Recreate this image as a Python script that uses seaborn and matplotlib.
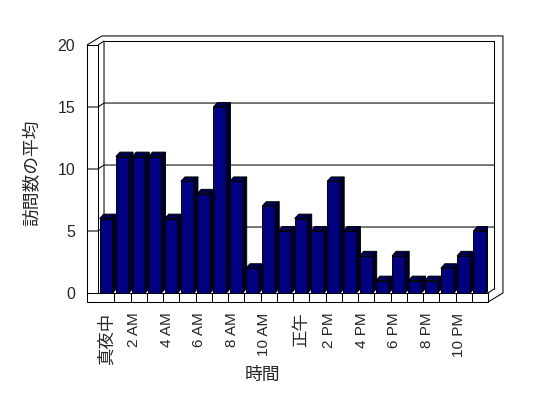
import matplotlib
matplotlib.use("Agg")
import matplotlib.pyplot as plt
import matplotlib.transforms as mtransforms
import seaborn as sns
import pandas as pd
from matplotlib.patches import Polygon

# data
hours = ['真夜中', '1 AM', '2 AM', '3 AM', '4 AM', '5 AM', '6 AM', '7 AM',
         '8 AM', '9 AM', '10 AM', '11 AM', '正午', '1 PM', '2 PM', '3 PM',
         '4 PM', '5 PM', '6 PM', '7 PM', '8 PM', '9 PM', '10 PM', '11 PM']
visits = [6, 11, 11, 11, 6, 9, 8, 15, 9, 2, 7, 5,
          6, 5, 9, 5, 3, 1, 3, 1, 1, 2, 3, 5]
y_ticks = [0, 5, 10, 15, 20]

sns.set_style('white')
plt.rcParams['font.family'] = ['Liberation Sans', 'Noto Sans CJK JP']

W, H = 548, 398
fig = plt.figure(figsize=(W / 100, H / 100), dpi=100)
# front plane of the 3d box: x slots -0.5..23.5 -> px 98..488, y 0..20 -> px 293..45
ax = fig.add_axes([98 / W, 1 - 293 / H, 390 / W, 248 / H])

df = pd.DataFrame({'hour': hours, 'visits': visits})
sns.barplot(data=df, x='hour', y='visits', order=hours, color='#000080',
            saturation=1, width=0.8, edgecolor='black', linewidth=0.7,
            zorder=3, ax=ax)

ax.set_xlim(-0.5, 23.5)
ax.set_ylim(0, 20)
for s in ax.spines.values():
    s.set_visible(False)

n = len(hours)
x0, x1 = -0.5, n - 0.5
ymax = y_ticks[-1]
# depth of bars, inner walls and outer box (in data units)
BDX, BDY = 0.25, 0.36
IDX, IDY = 0.37, 0.32
ODX, ODY = 0.92, 0.73
WALL = 0.68
FLOOR = 0.73
lw = 0.75
kw = dict(color='black', lw=lw, clip_on=False, zorder=1, solid_capstyle='butt')

# left wall front face
ax.plot([x0 - WALL, x0 - WALL, x0, x0, x0 - WALL],
        [-FLOOR, ymax, ymax, 0, 0], **kw)
ax.plot([x0 - WALL, x0], [-FLOOR, -FLOOR], **kw)
# outer box outline
ax.plot([x0 - WALL, x0 - WALL + ODX, x1 + ODX, x1 + ODX, x1],
        [ymax, ymax + ODY, ymax + ODY, ODY - FLOOR, -FLOOR], **kw)
# inner back wall
ax.plot([x0, x0 + IDX, x0 + IDX], [ymax, ymax + IDY, IDY], **kw)
ax.plot([x0 + IDX, x1 + IDX, x1 + IDX], [ymax + IDY, ymax + IDY, IDY], **kw)
# gridlines with ticks on the wall face
for v in y_ticks[1:-1]:
    ax.plot([x0 - WALL, x0, x0 + IDX, x1 + IDX], [v, v, v + IDY, v + IDY], **kw)
# floor front
ax.plot([x0, x1, x1, x0 - WALL], [0, 0, -FLOOR, -FLOOR], **kw)
ax.plot([x1, x1 + IDX], [0, IDY], **kw)
for k in range(1, n):
    ax.plot([k - 0.5, k - 0.5], [0, -FLOOR], **kw)

# 3d faces of the bars
for p in ax.patches[:n]:
    bx, bw, bh = p.get_x(), p.get_width(), p.get_height()
    top = Polygon([(bx, bh), (bx + bw, bh), (bx + bw + BDX, bh + BDY), (bx + BDX, bh + BDY)],
                  closed=True, facecolor='#000050', edgecolor='black', lw=0.7, zorder=3)
    side = Polygon([(bx + bw, 0), (bx + bw + BDX, BDY), (bx + bw + BDX, bh + BDY), (bx + bw, bh)],
                   closed=True, facecolor='#00002c', edgecolor='black', lw=0.7, zorder=3)
    ax.add_patch(top)
    ax.add_patch(side)

ax.set_yticks(y_ticks)
ax.set_yticklabels([str(v) for v in y_ticks], fontsize=11.5)
ax.tick_params(axis='y', length=0, pad=16.5)
ax.set_xticks(range(0, n, 2))
ax.set_xticklabels(hours[::2], rotation=90, fontsize=11)
ax.tick_params(axis='x', length=0, pad=14)
shift = mtransforms.ScaledTranslation(-3 / 72, 0, fig.dpi_scale_trans)
for t in ax.get_xticklabels():
    if not t.get_text()[0].isascii():
        t.set_fontsize(12.5)
    else:
        t.set_transform(t.get_transform() + shift)
ax.set_xlabel('')
ax.set_ylabel('')

fig.text(32 / W, 1 - 173 / H, '訪問数の平均', rotation=90, ha='center', va='center', fontsize=12.8)
fig.text(262 / W, 1 - 375 / H, '時間', ha='center', va='center', fontsize=12.8)

fig.savefig('out.png', dpi=100)
